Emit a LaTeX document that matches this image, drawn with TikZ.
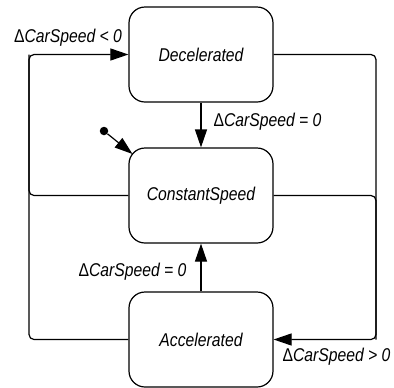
\documentclass[tikz,border=0pt]{standalone}
\usepackage{fontspec}
\setmainfont{Liberation Sans}[FakeStretch=0.85]
\usetikzlibrary{arrows.meta}
\begin{document}
\begin{tikzpicture}[x=1bp,y=-1bp,
  state/.style={draw, line width=1.2bp, rounded corners=16bp, minimum width=144bp,
    minimum height=95bp, inner sep=0pt, font=\fontsize{18.5bp}{21bp}\selectfont\itshape},
  trans/.style={draw, line width=1.2bp, -{Triangle[length=18bp,width=12bp]}},
  guard/.style={inner sep=0pt, font=\fontsize{18.5bp}{21bp}\selectfont}]
\useasboundingbox (0,0) rectangle (394,388);

% states
\node[state] (dec) at (201,54.5) {Decelerated};
\node[state] (con) at (201,195.5) {ConstantSpeed};
\node[state] (acc) at (201,339.5) {Accelerated};

% initial pseudostate
\node[circle, fill, inner sep=0pt, minimum size=8.5bp] (init) at (104,131) {};
\coordinate (initend) at (132.5,154);
\draw[trans] (init) -- (initend);

% straight transitions
\draw[trans] (dec) -- (con);
\draw[trans] (acc) -- (con);

% outer loops
\coordinate (L) at (29,0);
\coordinate (R) at (376,0);
\draw[line width=1.2bp, rounded corners=5bp] (con.west) -- (con.west -| L) -- (dec.west -| L);
\draw[trans, rounded corners=5bp] (acc.west) -- (acc.west -| L) -- (dec.west -| L) -- (dec.west);
\draw[line width=1.2bp, rounded corners=5bp] (con.east) -- (con.east -| R) -- (acc.east -| R);
\draw[trans, rounded corners=5bp] (dec.east) -- (dec.east -| R) -- (acc.east -| R) -- (acc.east);

% guards
\node[guard] (g1) at (68,38) {Δ\textit{CarSpeed < 0}};
\node[guard] (g2) at (267.5,122) {Δ\textit{CarSpeed = 0}};
\node[guard] (g3) at (132.5,272) {Δ\textit{CarSpeed = 0}};
\node[guard] (g4) at (336.5,357) {Δ\textit{CarSpeed > 0}};
\end{tikzpicture}
\end{document}
